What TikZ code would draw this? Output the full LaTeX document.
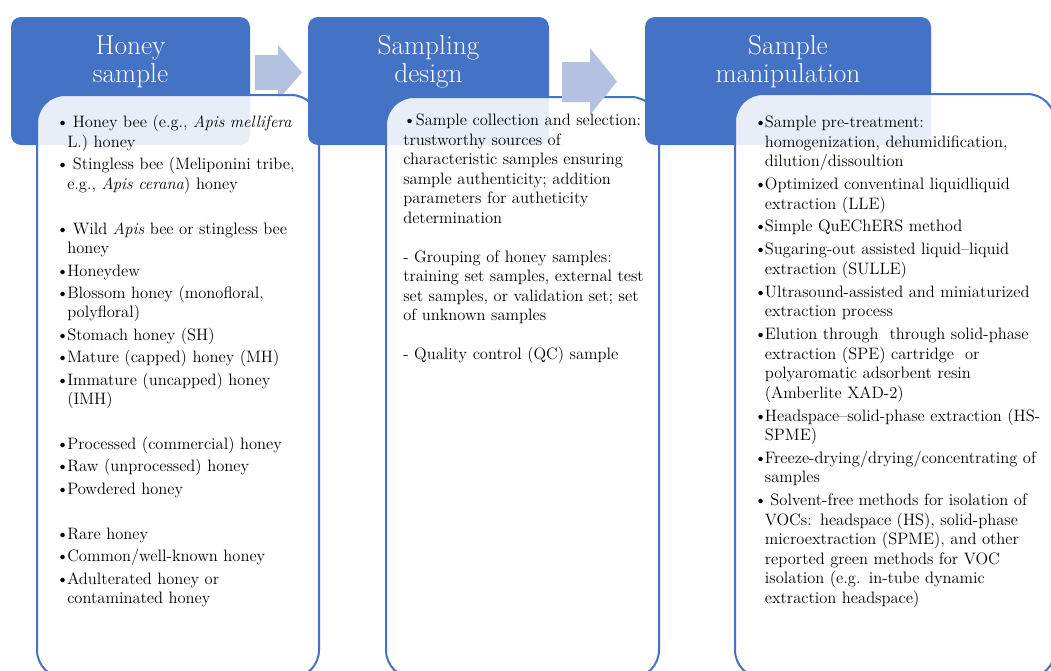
\documentclass[tikz,border=0pt]{standalone}
\usetikzlibrary{positioning}

\definecolor{hdrblue}{RGB}{68,114,196}
\definecolor{arrblue}{RGB}{180,194,226}

% bullet item with hanging indent
\newlength{\itemgap}
\setlength{\itemgap}{2.2pt}
\newcommand{\bitem}[2][8.25pt]{\par\begingroup\let\\\newline\noindent\hangindent=#1\hangafter=1\strut\makebox[#1][l]{\textbullet}#2\par\endgroup\vspace{\itemgap}}

\begin{document}
\begin{tikzpicture}[x=0.75pt,y=-0.75pt]
        \tikzset{
            hdr/.style={fill=hdrblue,rounded corners=7.5pt,minimum height=96pt,inner sep=0pt},
            ttl/.style={text=white,font=\fontsize{20.5}{21}\selectfont,align=center,inner sep=0pt},
            lst/.style={anchor=north west,inner sep=0pt,font=\fontsize{12.4}{14.6}\selectfont,text width=#1},
            panel/.style={draw=hdrblue,line width=1.5pt,fill=white,fill opacity=0.88,rounded corners=21pt},
            blockarrow/.style={fill=arrblue}
        }
        \fill[white] (0,0) rectangle (1051,671);
        \useasboundingbox (0,0) rectangle (1051,671);

        %% Honey sample
        \node[hdr,minimum width=179.25pt] (hdrA) at (130.5,81) {};
        \node[ttl,below=12.75pt of hdrA.north] (ttlA) {\rule{0pt}{15pt}Honey\\sample};
        \fill[blockarrow] (255,55) -- (278,55) -- (278,45) -- (302,72.5)
            -- (278,100) -- (278,90) -- (255,90) -- cycle;
        \path[panel] (37,95) rectangle (319,678);
        \node[lst=200pt] (lstA) at (56,108) {%
            \bitem{\ Honey bee (e.g., \textit{Apis mellifera}\\L.) honey}
            \bitem{\ Stingless bee (Meliponini tribe,\\e.g., \textit{Apis cerana}) honey}
            \vspace{17pt}
            \bitem{\ Wild \textit{Apis} bee or stingless bee\\honey}
            \bitem{Honeydew}
            \bitem{Blossom honey (monofloral,\\polyfloral)}
            \bitem{Stomach honey (SH)}
            \bitem{Mature (capped) honey (MH)}
            \bitem{Immature (uncapped) honey\\(IMH)}
            \vspace{17pt}
            \bitem{Processed (commercial) honey}
            \bitem{Raw (unprocessed) honey}
            \bitem{Powdered honey}
            \vspace{17pt}
            \bitem{Rare honey}
            \bitem{Common/well-known honey}
            \bitem{Adulterated honey or\\contaminated honey}
        };

        %% Sampling design
        \node[hdr,minimum width=180.75pt] (hdrB) at (428.5,81) {};
        \node[ttl,below=12.75pt of hdrB.north] (ttlB) {\rule{0pt}{15pt}Sampling\\design};
        \path[panel] (386,97) rectangle (659,678);
        \node[lst=200pt] (lstB) at (403,112) {%
            \noindent\strut\textbullet Sample collection and selection:\\
            trustworthy sources of\\
            characteristic samples ensuring\\
            sample authenticity; addition\\
            parameters for autheticity\\
            determination\par
            \vspace{14.6pt}
            \noindent\strut- Grouping of honey samples:\\
            training set samples, external test\\
            set samples, or validation set; set\\
            of unknown samples\par
            \vspace{14.6pt}
            \noindent\strut- Quality control (QC) sample\par
        };
        \fill[blockarrow] (562,62) -- (590,62) -- (590,48) -- (617,81.5)
            -- (590,115) -- (590,102) -- (562,102) -- cycle;

        %% Sample manipulation
        \node[hdr,minimum width=214.5pt] (hdrC) at (788,81) {};
        \node[ttl,below=12.75pt of hdrC.north] (ttlC) {\rule{0pt}{15pt}Sample\\manipulation};
        \path[panel] (735,94) rectangle (1055,678);
        \node[lst=240pt] (lstC) at (754,108) {%
            \setlength{\itemgap}{2.6pt}%
            \bitem[8pt]{Sample pre-treatment:\\homogenization, dehumidification,\\dilution/dissoultion}
            \bitem[8pt]{Optimized conventinal liquidliquid\\extraction (LLE)}
            \bitem[8pt]{Simple QuEChERS method}
            \bitem[8pt]{Sugaring-out assisted liquid--liquid\\extraction (SULLE)}
            \bitem[8pt]{Ultrasound-assisted and miniaturized\\extraction process}
            \bitem[8pt]{Elution through~ through solid-phase\\extraction (SPE) cartridge~ or\\polyaromatic adsorbent resin\\(Amberlite XAD-2)}
            \bitem[8pt]{Headspace--solid-phase extraction (HS-\\SPME)}
            \bitem[8pt]{Freeze-drying/drying/concentrating of\\samples}
            \bitem[8pt]{\ Solvent-free methods for isolation of\\VOCs: headspace (HS), solid-phase\\microextraction (SPME), and other\\reported green methods for VOC\\isolation (e.g. in-tube dynamic\\extraction headspace)}
        };
\end{tikzpicture}
\end{document}
